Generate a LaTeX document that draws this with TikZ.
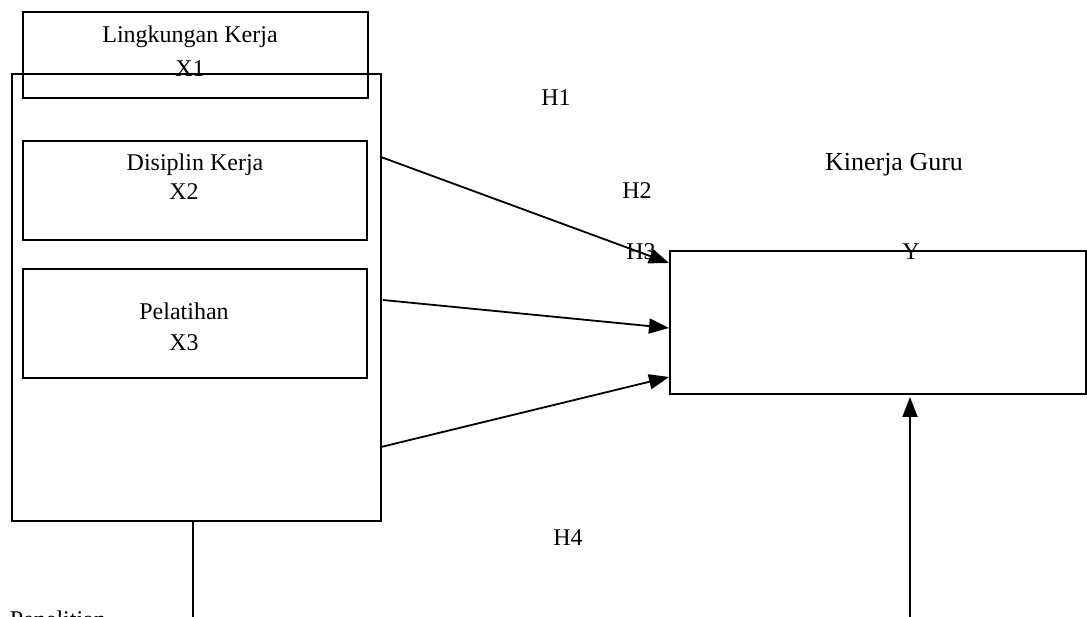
\documentclass[tikz,border=0pt]{standalone}
\usepackage{fontspec}
\setmainfont{Liberation Serif}
\usetikzlibrary{arrows.meta}
\begin{document}
\begin{tikzpicture}[x=1pt,y=-1pt,line width=1.8pt,
  box/.style={draw,rectangle,inner sep=0pt,line width=1.8pt},
  lbl/.style={anchor=base,inner sep=0pt,font=\fontsize{24}{28}\selectfont},
  biglbl/.style={anchor=base,inner sep=0pt,font=\fontsize{26}{31}\selectfont},
  arr/.style={-{Triangle[length=20pt,width=15pt]},line width=1.8pt}]
\useasboundingbox (0,0) rectangle (1087,617);
\clip (0,0) rectangle (1087,617);
% boxes
\node[box,minimum width=345pt,minimum height=86pt] (x1box) at (195.5,55) {};
\node[box,minimum width=369pt,minimum height=447pt] (outer) at (196.5,297.5) {};
\node[box,minimum width=344pt,minimum height=99pt] (x2box) at (195,190.5) {};
\node[box,minimum width=344pt,minimum height=109pt] (x3box) at (195,323.5) {};
\node[box,minimum width=416pt,minimum height=143pt] (ybox) at (878,322.5) {};
% texts
\node[lbl] (t1) at (190,43) {Lingkungan Kerja};
\node[lbl] (t1b) at (190,77) {X1};
\node[lbl] (t2) at (195,171) {Disiplin Kerja};
\node[lbl] (t2b) at (184,200) {X2};
\node[lbl] (t3) at (184,320) {Pelatihan};
\node[lbl] (t3b) at (184,351) {X3};
\node[biglbl] (ty) at (894,171) {Kinerja Guru};
\node[lbl] (tyb) at (911,260) {Y};
\node[lbl] (h1) at (556,106) {H1};
\node[lbl] (h2) at (637,199) {H2};
\node[lbl] (h3) at (641,260) {H3};
\node[lbl] (h4) at (568,545) {H4};
\node[lbl,anchor=base west] (pen) at (9,627) {Penelitian};
% connector end points
\coordinate (s1) at (381,157);
\coordinate (s2) at (383,300);
\coordinate (s3) at (381,447);
\coordinate (e1) at (669,263);
\coordinate (e2) at (669,328);
\coordinate (e3) at (669,377);
\coordinate (s4) at (910,640);
\coordinate (e4) at (910,397);
\coordinate (ob) at (193,521);
\coordinate (obd) at (193,640);
% connectors
\draw[arr] (s1) -- (e1);
\draw[arr] (s2) -- (e2);
\draw[arr] (s3) -- (e3);
\draw[arr] (s4) -- (e4);
\draw (ob) -- (obd);
\end{tikzpicture}
\end{document}
